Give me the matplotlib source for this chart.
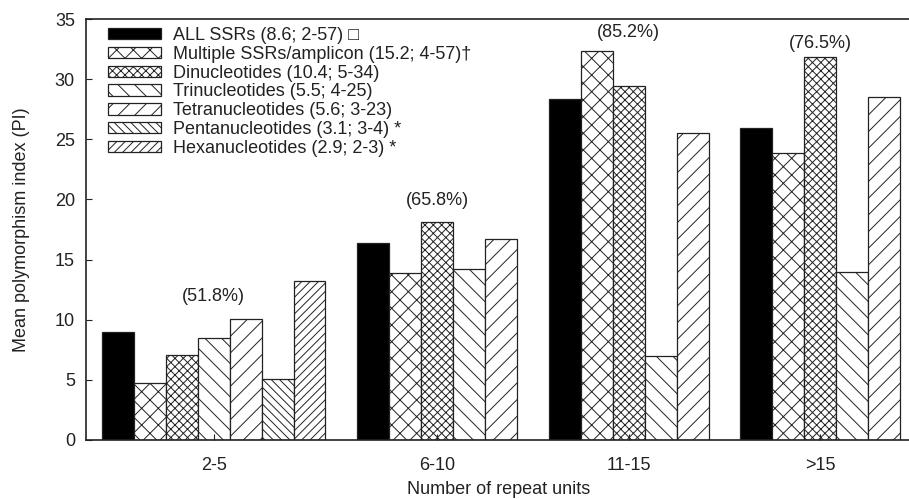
import numpy as np
import matplotlib
matplotlib.use('Agg')
import matplotlib.pyplot as plt
from matplotlib.patches import Patch

plt.rcParams['font.family'] = ['Liberation Sans', 'DejaVu Sans']
plt.rcParams['hatch.linewidth'] = 0.7
plt.rcParams['font.size'] = 13

groups = ['2-5', '6-10', '11-15', '>15']
series = ['ALL SSRs (8.6; 2-57) □',
          'Multiple SSRs/amplicon (15.2; 4-57)†',
          'Dinucleotides (10.4; 5-34)',
          'Trinucleotides (5.5; 4-25)',
          'Tetranucleotides (5.6; 3-23)',
          'Pentanucleotides (3.1; 3-4) *',
          'Hexanucleotides (2.9; 2-3) *']
all_ssrs = [9.0, 16.35, 28.35, 25.9]
multiple = [4.7, 13.9, 32.35, 23.9]
dinuc = [7.1, 18.1, 29.45, 31.8]
trinuc = [8.45, 14.25, 6.95, 14.0]
tetranuc = [10.05, 16.75, 25.5, 28.55]
pentanuc = [5.05, np.nan, np.nan, np.nan]
hexanuc = [13.25, np.nan, np.nan, np.nan]
percent_labels = ['(51.8%)', '(65.8%)', '(85.2%)', '(76.5%)']
label_y = [11.9, 19.9, 33.9, 33.0]

values = [all_ssrs, multiple, dinuc, trinuc, tetranuc, pentanuc, hexanuc]
hatches = ['', 'xx', 'xxxx', '\\\\', '//', '\\\\\\\\', '////']
faces = ['black', 'white', 'white', 'white', 'white', 'white', 'white']

fig = plt.figure(figsize=(9.09, 4.99), dpi=100)
ax = fig.add_axes([86/909, 1-440/499, 830/909, 421/499])

slot = 0
centers = []
for g in range(len(groups)):
    present = [s for s in range(len(series)) if not np.isnan(values[s][g])]
    start = slot
    for s in present:
        ax.bar(slot, values[s][g], width=1.0, align='edge', color=faces[s],
               edgecolor='#222222', linewidth=0.9, hatch=hatches[s])
        slot += 1
    centers.append(start + len(present) / 2)
    slot += 1

for c, t, y in zip(centers, percent_labels, label_y):
    ax.text(c, y, t, ha='center', va='center', fontsize=13, color='#222222')

ax.set_xlim(-0.5, 25.5)
ax.set_ylim(0, 35)
ax.set_yticks(np.arange(0, 36, 5))
ax.set_xticks(centers)
ax.set_xticklabels(groups)
ax.tick_params(axis='both', direction='in', length=4, width=0.8, colors='#222222',
               labelcolor='#222222')
ax.tick_params(axis='x', pad=12)
ax.tick_params(axis='y', pad=8)
for sp in ax.spines.values():
    sp.set_linewidth(1.2)
    sp.set_color('#222222')

handles = [Patch(facecolor=faces[i], edgecolor='#222222', linewidth=0.9,
                 hatch=hatches[i]) for i in range(len(series))]
leg = ax.legend(handles, series, loc='upper left', bbox_to_anchor=(22/830, 1 - 8/421),
                frameon=False, borderaxespad=0, borderpad=0, labelspacing=0.1,
                handlelength=2.95, handleheight=0.6, handletextpad=0.65,
                fontsize=13)
for t in leg.get_texts():
    t.set_color('#222222')

fig.text(22/909, 1 - 230/499, 'Mean polymorphism index (PI)', rotation=90,
         ha='center', va='center', fontsize=13, color='#222222')
fig.text(499/909, 1 - 489/499, 'Number of repeat units', ha='center', va='center',
         fontsize=13, color='#222222')

fig.savefig('out.png', dpi=100)
